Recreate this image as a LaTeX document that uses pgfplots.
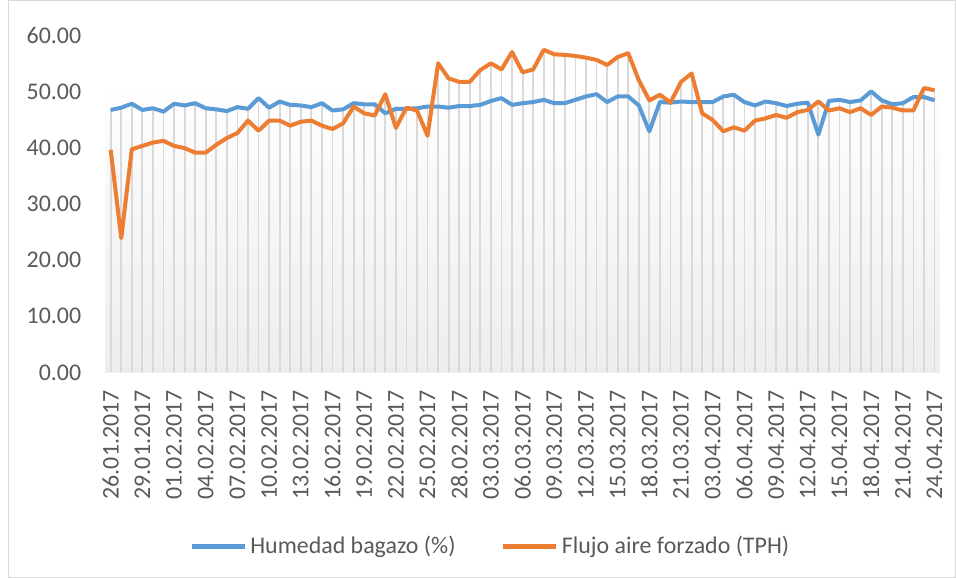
\documentclass[border=0pt]{standalone}
\usepackage{fontspec}
\setmainfont{Carlito}
\usepackage{pgfplots}
\usepackage{pgfplotstable}
\pgfplotsset{compat=1.18}
\definecolor{hblue}{HTML}{5B9BD5}
\definecolor{forange}{HTML}{ED7D31}
\definecolor{txt}{HTML}{595959}
\definecolor{dropg}{HTML}{D9D9D9}
\definecolor{axg}{HTML}{D9D9D9}

\pgfplotstableread{
i h f
0 46.7 39.6
1 47.1 23.9
2 47.8 39.7
3 46.7 40.3
4 47.0 40.9
5 46.4 41.2
6 47.8 40.3
7 47.5 39.9
8 47.9 39.1
9 47.0 39.1
10 46.8 40.5
11 46.5 41.7
12 47.2 42.6
13 46.9 44.8
14 48.8 43.0
15 47.1 44.8
16 48.2 44.8
17 47.6 43.9
18 47.5 44.6
19 47.2 44.8
20 47.9 43.9
21 46.6 43.3
22 46.8 44.3
23 47.9 47.3
24 47.7 46.1
25 47.7 45.7
26 46.1 49.5
27 46.9 43.5
28 46.9 47.1
29 47.0 46.6
30 47.3 42.1
31 47.3 55.0
32 47.1 52.3
33 47.4 51.7
34 47.4 51.7
35 47.6 53.8
36 48.3 55.0
37 48.8 53.9
38 47.6 57.0
39 47.9 53.4
40 48.1 53.9
41 48.5 57.4
42 47.9 56.6
43 47.9 56.5
44 48.5 56.3
45 49.1 56.0
46 49.5 55.6
47 48.1 54.7
48 49.1 56.1
49 49.1 56.8
50 47.5 52.0
51 42.9 48.4
52 48.1 49.4
53 48.0 48.0
54 48.2 51.7
55 48.1 53.2
56 48.1 46.1
57 48.1 44.9
58 49.1 42.9
59 49.4 43.6
60 48.1 43.0
61 47.5 44.8
62 48.2 45.2
63 47.9 45.8
64 47.4 45.3
65 47.8 46.3
66 48.0 46.7
67 42.3 48.2
68 48.3 46.6
69 48.5 47.0
70 48.1 46.3
71 48.4 47.0
72 50.0 45.8
73 48.4 47.3
74 47.7 47.1
75 47.9 46.6
76 49.0 46.6
77 49.0 50.6
78 48.4 50.2
}\data

\begin{document}
\begin{tikzpicture}
\begin{axis}[
  name=ax,
  scale only axis,
  width=417.2bp, height=168.6bp,
  xmin=-0.5, xmax=78.5, ymin=0, ymax=60,
  clip=false,
  separate axis lines,
  axis x line*=bottom, axis y line*=left,
  x axis line style={draw=axg, line width=1bp, -},
  y axis line style={draw=none},
  tick align=inside, major tick length=0pt, tick style={draw=none},
  ytick={0,10,20,30,40,50,60},
  yticklabels={0.00,10.00,20.00,30.00,40.00,50.00,60.00},
  xtick={0,3,...,78},
  xticklabels={26.01.2017,29.01.2017,01.02.2017,04.02.2017,07.02.2017,10.02.2017,13.02.2017,16.02.2017,19.02.2017,22.02.2017,25.02.2017,28.02.2017,03.03.2017,06.03.2017,09.03.2017,12.03.2017,15.03.2017,18.03.2017,21.03.2017,03.04.2017,06.04.2017,09.04.2017,12.04.2017,15.04.2017,18.04.2017,21.04.2017,24.04.2017},
  yticklabel style={font=\fontsize{12}{14}\selectfont, text=txt, anchor=east, inner sep=0pt, xshift=-11.9bp},
  xticklabel style={font=\fontsize{12}{14}\selectfont, text=txt, rotate=90, anchor=east, inner sep=0pt},
  xticklabel shift=8.75bp,
  legend style={at={(0.4622,-0.5163)}, anchor=center, draw=none, fill=none,
    font=\fontsize{12}{14}\selectfont, text=txt,
    /tikz/every even column/.append style={column sep=21bp},
    nodes={inner sep=1.75bp}},
  legend columns=2,
  legend cell align=left,
  legend image code/.code={\draw[#1, line width=2.2bp] (0bp,0bp) -- (26.5bp,0bp);},
]
\addplot[forget plot, draw=none, shading=axis, top color=white, bottom color=black!7] coordinates {(-0.5,52.3) (78.5,52.3)} \closedcycle;
\addplot[forget plot, ycomb, draw=dropg, line width=0.9bp, no marks] table[x=i, y expr={max(\thisrow{h},\thisrow{f})}] {\data};
\addplot[hblue, line width=2bp, line join=round, no marks] table[x=i, y=h] {\data};
\addlegendentry{Humedad bagazo (\%)}
\addplot[forange, line width=2bp, line join=round, no marks] table[x=i, y=f] {\data};
\addlegendentry{Flujo aire forzado (TPH)}
\end{axis}
\pgfresetboundingbox
\path[use as bounding box] ([xshift=-52.7bp, yshift=17.6bp]ax.north west) rectangle ([xshift=8.1bp, yshift=-102.7bp]ax.south east);
\draw[axg, line width=0.6bp] ([xshift=-48.5bp, yshift=17.3bp]ax.north west) rectangle ([xshift=7.8bp, yshift=-102.4bp]ax.south east);
\end{tikzpicture}
\end{document}
